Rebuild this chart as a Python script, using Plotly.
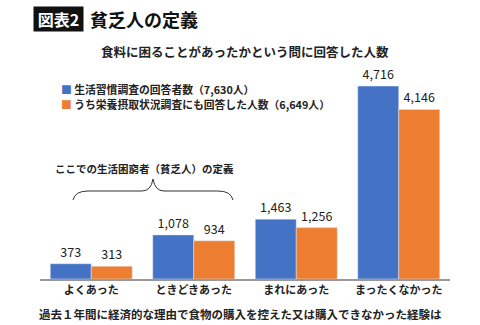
import plotly.graph_objects as go

categories = ["よくあった", "ときどきあった", "まれにあった", "まったくなかった"]
series_names = ["生活習慣調査の回答者数（7,630人）", "うち栄養摂取状況調査にも回答した人数（6,649人）"]
values_all = [373, 1078, 1463, 4716]
values_sub = [313, 934, 1256, 4146]
colors = ["#4472C4", "#ED7D31"]

W, H = 480, 325
ML, MR, MT, MB = 40, 30, 54, 46
PW, PH = W - ML - MR, H - MT - MB
FONT = "Noto Sans CJK JP"

def px(x):
    return (x - ML) / PW

def py(y):
    return (H - MB - y) / PH

fig = go.Figure()
for name, vals, col in zip(series_names, [values_all, values_sub], colors):
    fig.add_trace(go.Bar(
        x=categories, y=vals, name=name, marker_color=col,
        text=[f"{v:,}" for v in vals], textposition="outside",
        textfont=dict(size=12.5, color="#222", family=FONT),
        cliponaxis=False, showlegend=False,
    ))

# legend drawn as text
legend_anns = []
for i, (name, col) in enumerate(zip(series_names, colors)):
    legend_anns.append(dict(
        text=f"<span style='color:{col}'>■</span> <b>{name}</b>", xref="paper", yref="paper",
        x=px(59), y=py(89 + 15 * i), xanchor="left", yanchor="middle", showarrow=False,
        font=dict(size=10.8, color="#222")))

# bracket path (decoration)
pts = f"M {px(73)} {py(200)} Q {px(75)} {py(191)} {px(88)} {py(191)} L {px(142)} {py(191)} Q {px(151)} {py(191)} {px(153)} {py(179)} " \
      f"Q {px(155)} {py(191)} {px(164)} {py(191)} L {px(218)} {py(191)} Q {px(231)} {py(191)} {px(233)} {py(200)}"

fig.update_layout(
    width=W, height=H,
    margin=dict(l=ML, r=MR, t=MT, b=MB),
    paper_bgcolor="white", plot_bgcolor="white",
    font=dict(family=FONT, color="#222"),
    barmode="group", bargap=0.2, bargroupgap=0,
    xaxis=dict(showline=True, linecolor="#999", linewidth=1.5, ticks="",
               tickfont=dict(size=11, color="#222"), showgrid=False,
               ticktext=[f"<b>{c}</b>" for c in categories], tickvals=categories),
    yaxis=dict(visible=False, range=[0, 5500], showgrid=False),
    shapes=[
        dict(type="path", xref="paper", yref="paper", path=pts,
             line=dict(color="#333", width=1)),
    ],
    annotations=legend_anns + [
        dict(text="<b> 図表2 </b>", xref="paper", yref="paper", x=px(33), y=py(19),
             xanchor="left", yanchor="middle", showarrow=False,
             font=dict(size=16, color="white"), bgcolor="#111", borderpad=0),
        dict(text="<b>貧乏人の定義</b>", xref="paper", yref="paper", x=px(88), y=py(19),
             xanchor="left", yanchor="middle", showarrow=False,
             font=dict(size=18, color="#111")),
        dict(text="<b>食料に困ることがあったかという問に回答した人数</b>", xref="paper", yref="paper",
             x=px(245), y=py(52), xanchor="center", yanchor="middle", showarrow=False,
             font=dict(size=12.5, color="#222")),
        dict(text="<b>ここでの生活困窮者（貧乏人）の定義</b>", xref="paper", yref="paper",
             x=px(144), y=py(168), xanchor="center", yanchor="middle", showarrow=False,
             font=dict(size=10.5, color="#222")),
        dict(text="<b>過去１年間に経済的な理由で食物の購入を控えた又は購入できなかった経験は</b>",
             xref="paper", yref="paper", x=px(240), y=py(314), xanchor="center", yanchor="middle",
             showarrow=False, font=dict(size=11.5, color="#222")),
    ],
)

fig.write_html("out.html")
